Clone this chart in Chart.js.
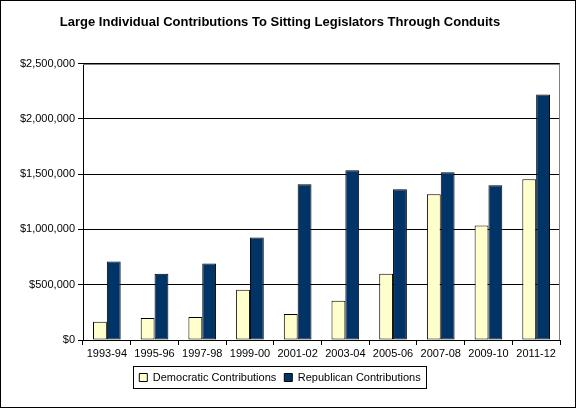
<!DOCTYPE html>
<html><head><meta charset="utf-8">
<script src="https://cdn.jsdelivr.net/npm/chart.js@4"></script>
<style>html,body{margin:0;padding:0;background:#fff}#w{width:576px;height:408px}</style>
</head><body><div id="w"><canvas id="c"></canvas></div>
<script>
const categories = ["1993-94","1995-96","1997-98","1999-00","2001-02","2003-04","2005-06","2007-08","2009-10","2011-12"];
const democratic = [164000,200000,209000,455000,236000,355000,600000,1318000,1036000,1455000];
const republican = [709000,600000,691000,927000,1409000,1536000,1364000,1518000,1400000,2221000];
const seriesNames = ["Democratic Contributions","Republican Contributions"];
const titleText = "Large Individual Contributions To Sitting Legislators Through Conduits";

const frame = {
  id:'frame',
  afterDraw(chart){
    const c=chart.ctx, a=chart.chartArea, L=chart.legend;
    c.save();
    c.strokeStyle='#000'; c.lineWidth=1;
    c.strokeRect(0.5,0.5,chart.width-1,chart.height-1);
    c.strokeStyle='#808080';
    c.beginPath(); c.moveTo(a.left,Math.round(a.top)+0.5); c.lineTo(a.right,Math.round(a.top)+0.5);
    c.moveTo(Math.round(a.right)-0.5,a.top); c.lineTo(Math.round(a.right)-0.5,a.bottom); c.stroke();
    const hb=L.legendHitBoxes;
    if(hb&&hb.length){
      let x0=Infinity,x1=-Infinity,y0=Infinity,y1=-Infinity;
      hb.forEach(b=>{x0=Math.min(x0,b.left);x1=Math.max(x1,b.left+b.width);y0=Math.min(y0,b.top);y1=Math.max(y1,b.top+b.height);});
      c.strokeStyle='#000';
      c.strokeRect(Math.round(x0-6)+0.5,Math.round(y0-6)+0.5,Math.round(x1-x0+12),Math.round(y1-y0+11));
    }
    c.restore();
  }
};
Chart.defaults.font.family="Arial, 'Liberation Sans', sans-serif";
Chart.defaults.color="#000";
new Chart(document.getElementById('c'),{
  type:'bar',
  data:{labels:categories,datasets:[
    {label:seriesNames[0],data:democratic,backgroundColor:'#FFFFCC',borderColor:'#000',borderWidth:1,borderSkipped:false},
    {label:seriesNames[1],data:republican,backgroundColor:'#003366',borderColor:'#000',borderWidth:1,borderSkipped:false}
  ]},
  options:{
    responsive:true,maintainAspectRatio:false,animation:false,
    devicePixelRatio:1,
    layout:{padding:{left:0,right:16,top:0,bottom:15}},
    datasets:{bar:{barPercentage:1,categoryPercentage:0.58}},
    plugins:{
      title:{display:true,text:titleText,font:{size:13,weight:'bold'},padding:{top:15,bottom:33}},
      legend:{position:'bottom',labels:{boxWidth:8,boxHeight:8,font:{size:11},padding:8,color:'#000'}},
      tooltip:{enabled:false}
    },
    scales:{
      x:{grid:{display:true,drawOnChartArea:false,offset:true,tickLength:5,color:'#000'},
         border:{color:'#000'},
         ticks:{font:{size:11},maxRotation:0,padding:2},
         afterFit(s){s.height=24;}},
      y:{min:0,max:2500000,grid:{color:'#000',tickLength:5},border:{color:'#000'},
         ticks:{stepSize:500000,font:{size:11},padding:3,callback:v=>'$'+v.toLocaleString('en-US')},
         afterFit(s){s.width=83;}}
    }
  },
  plugins:[frame]
});
</script></body></html>
